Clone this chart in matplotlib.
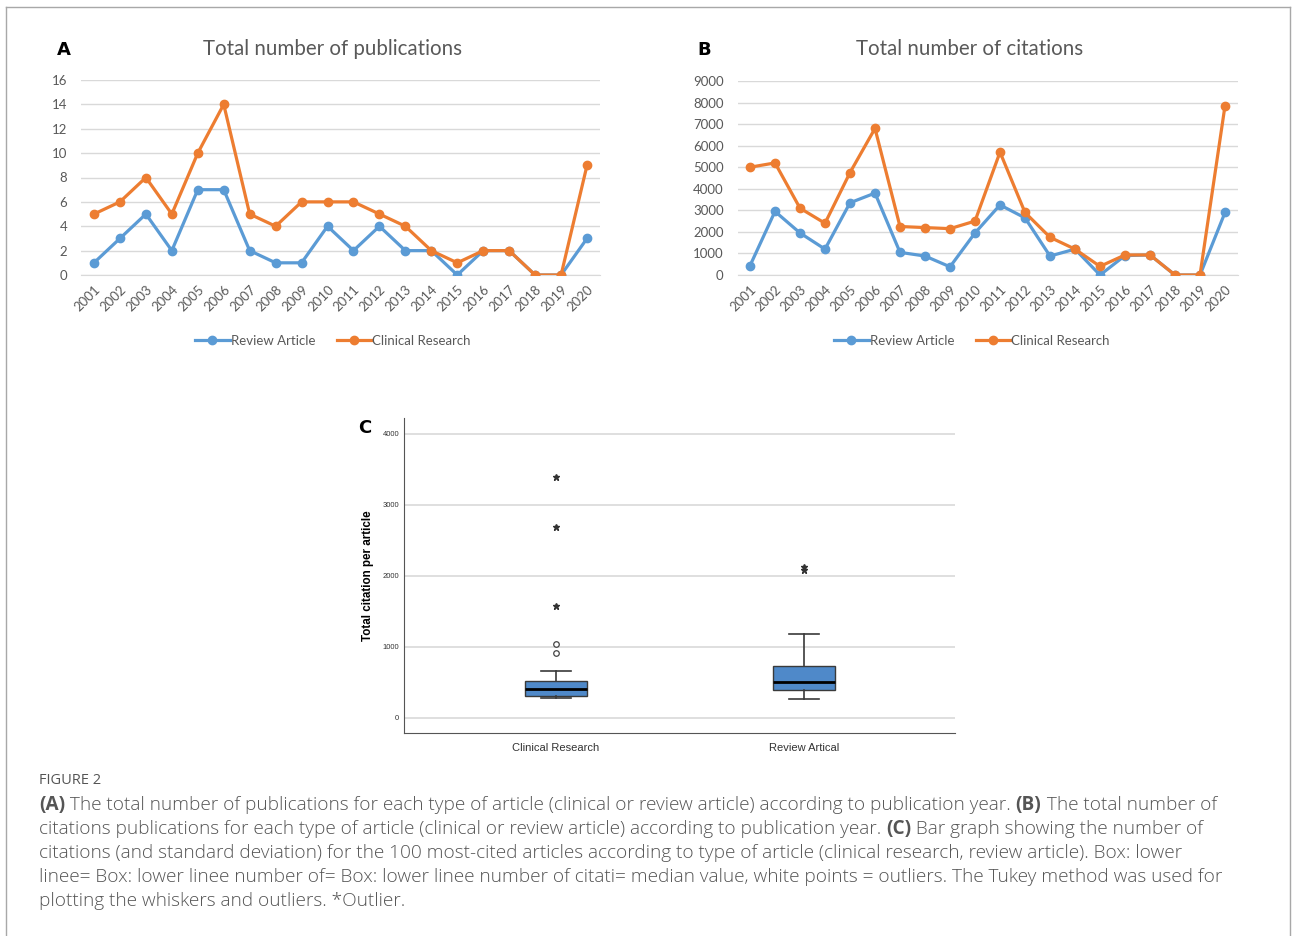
import numpy as np
import matplotlib.pyplot as plt
from matplotlib.lines import Line2D

years = [str(y) for y in range(2001, 2021)]

pub_review = [1, 3, 5, 2, 7, 7, 2, 1, 1, 4, 2, 4, 2, 2, 0, 2, 2, 0, 0, 3]
pub_clinical = [5, 6, 8, 5, 10, 14, 5, 4, 6, 6, 6, 5, 4, 2, 1, 2, 2, 0, 0, 9]

cit_review = [430, 2950, 1950, 1200, 3350, 3800, 1050, 880, 380, 1950,
              3250, 2650, 880, 1200, 0, 900, 930, 0, 0, 2900]
cit_clinical = [5000, 5200, 3100, 2400, 4750, 6800, 2250, 2200, 2150, 2500,
                5700, 2900, 1750, 1200, 400, 930, 930, 0, 0, 7850]

box_labels = ["Clinical Research", "Review Artical"]
box_q1 = [306, 390]
box_med = [400, 503]
box_q3 = [521, 728]
box_lo = [277, 268]
box_hi = [653, 1179]
circle_out = [[1042, 915], []]
star_out = [[3386, 2682, 1573], [2127, 2080]]

BLUE = "#5B9BD5"
ORANGE = "#ED7D31"
GRID = "#d9d9d9"
TXT = "#595959"
FONT = "Lato"

fig = plt.figure(figsize=(12.92, 9.36), dpi=100)
W, H = 1292, 936


def fx(px):
    return px / W


def fy(py):
    return 1 - py / H


def line_panel(rect, review, clinical, ymax, step, title, title_x, letter, letter_x, leg_x):
    ax = fig.add_axes(rect)
    x = np.arange(len(years))
    ax.plot(x, review, color=BLUE, lw=2.3, marker="o", ms=6, label="Review Article", zorder=3)
    ax.plot(x, clinical, color=ORANGE, lw=2.3, marker="o", ms=6, label="Clinical Research", zorder=4)
    ax.set_xlim(-0.5, len(years) - 0.5)
    ax.set_ylim(0, ymax)
    ax.set_yticks(np.arange(0, ymax + 1, step))
    ax.grid(axis="y", color=GRID, lw=1)
    ax.set_axisbelow(True)
    for s in ax.spines.values():
        s.set_visible(False)
    ax.spines["bottom"].set_visible(True)
    ax.spines["bottom"].set_color(GRID)
    ax.tick_params(length=0, labelsize=9.5, labelcolor=TXT)
    ax.set_xticks(x)
    ax.set_xticklabels(years, rotation=45, ha="right", rotation_mode="anchor", fontfamily=FONT)
    ax.tick_params(axis="x", pad=6)
    ax.tick_params(axis="y", pad=10)
    for lab in ax.get_yticklabels():
        lab.set_fontfamily(FONT)
    fig.text(fx(title_x), fy(49), title, ha="center", va="center",
             fontsize=14.8, color=TXT, fontfamily=FONT)
    fig.text(fx(letter_x), fy(50), letter, fontsize=13, fontweight="bold", ha="center", va="center",
             fontfamily="DejaVu Sans")
    ax_cx = (rect[0] + rect[2] / 2) * W
    bx = 0.5 + (leg_x - ax_cx) / (rect[2] * W)
    leg = ax.legend(loc="center", bbox_to_anchor=(bx, -66 / (rect[3] * H)), ncol=2, frameon=False,
                    handlelength=2.6, handletextpad=0.1, columnspacing=1.6,
                    prop={"family": FONT, "size": 9.5})
    for t in leg.get_texts():
        t.set_color(TXT)
    return ax


line_panel([fx(81), fy(275), 519 / W, 195 / H], pub_review, pub_clinical, 16, 2,
           "Total number of publications", 332, "A", 64, 333)
line_panel([fx(737.5), fy(275), 500 / W, 194 / H], cit_review, cit_clinical, 9000, 1000,
           "Total number of citations", 970, "B", 704, 972)

# panel C
axc = fig.add_axes([fx(404), fy(733), 551 / W, 315 / H])
stats = []
for i in range(2):
    stats.append({"med": box_med[i], "q1": box_q1[i], "q3": box_q3[i],
                  "whislo": box_lo[i], "whishi": box_hi[i], "fliers": [], "label": box_labels[i]})
axc.bxp(stats, positions=[1, 2], widths=0.25, patch_artist=True, showfliers=False,
        boxprops=dict(facecolor="#4f89c9", edgecolor="#3a3a3a", lw=1),
        medianprops=dict(color="black", lw=2),
        whiskerprops=dict(color="#3a3a3a", lw=1.2),
        capprops=dict(color="#3a3a3a", lw=1.2), capwidths=0.12)
for i in range(2):
    if circle_out[i]:
        axc.plot([i + 1] * len(circle_out[i]), circle_out[i], ls="none", marker="o", ms=4,
                 mfc="white", mec="#444444", mew=0.9)
    axc.plot([i + 1] * len(star_out[i]), star_out[i], ls="none", marker="*", ms=4.5,
             color="#333333")
axc.set_xlim(0.387, 2.609)
axc.set_ylim(-215, 4221)
axc.set_yticks([0, 1000, 2000, 3000, 4000])
axc.grid(axis="y", color=GRID, lw=1.2)
axc.set_axisbelow(True)
axc.spines["top"].set_visible(False)
axc.spines["right"].set_visible(False)
axc.spines["left"].set_color("#555555")
axc.spines["bottom"].set_color("#555555")
axc.tick_params(length=0, labelsize=5.5, labelcolor="#333333")
axc.tick_params(axis="x", labelsize=8, pad=7)
for lab in axc.get_xticklabels() + axc.get_yticklabels():
    lab.set_fontfamily("Liberation Sans")
axc.set_ylabel("Total citation per article", fontsize=8.4, fontweight="bold",
               fontfamily="Liberation Sans", labelpad=6)
fig.text(fx(365), fy(428), "C", fontsize=13, fontweight="bold", ha="center", va="center",
         fontfamily="DejaVu Sans")

# border
bc = "#a8a8a8"
fig.add_artist(Line2D([fx(6), fx(6)], [fy(7), 0], transform=fig.transFigure, color=bc, lw=1))
fig.add_artist(Line2D([fx(6), fx(1290)], [fy(7), fy(7)], transform=fig.transFigure, color=bc, lw=1))
fig.add_artist(Line2D([fx(1290), fx(1290)], [fy(7), 0], transform=fig.transFigure, color=bc, lw=1))

# caption
CAP = "#555555"
CFONT = "Open Sans"
fig.text(fx(39), fy(781), "FIGURE 2", fontsize=10.5, color=CAP, fontfamily=CFONT, va="center")

caption = [
    [("(A)", True), (" The total number of publications for each type of article (clinical or review article) according to publication year. ", False),
     ("(B)", True), (" The total number of", False)],
    [("citations publications for each type of article (clinical or review article) according to publication year. ", False),
     ("(C)", True), (" Bar graph showing the number of", False)],
    [("citations (and standard deviation) for the 100 most-cited articles according to type of article (clinical research, review article). Box: lower", False)],
    [("linee= Box: lower linee number of= Box: lower linee number of citati= median value, white points = outliers. The Tukey method was used for", False)],
    [("plotting the whiskers and outliers. *Outlier.", False)],
]
renderer = fig.canvas.get_renderer()
for k, parts in enumerate(caption):
    xpos = 39
    for txt, bold in parts:
        t = fig.text(fx(xpos), fy(805 + 24 * k), txt, fontsize=13.7, color=CAP, fontfamily=CFONT,
                     fontweight="bold" if bold else "light", va="center")
        bb = t.get_window_extent(renderer)
        xpos += bb.width

fig.savefig("out.png", dpi=100)
